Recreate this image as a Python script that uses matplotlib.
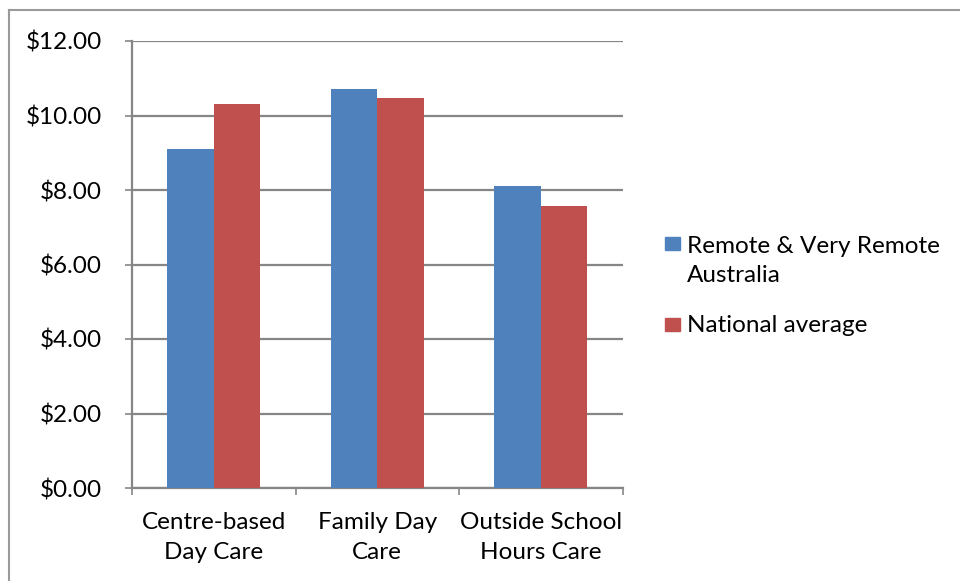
import matplotlib.pyplot as plt
import numpy as np
from matplotlib.lines import Line2D
from matplotlib.patches import Rectangle

categories = ['Centre-based\nDay Care', 'Family Day\nCare', 'Outside School\nHours Care']
remote = [9.11, 10.71, 8.12]
national = [10.31, 10.46, 7.56]
series_names = ['Remote & Very Remote\nAustralia', 'National average']
colors = ['#4f81bd', '#c0504d']
grid_col = '#868686'

plt.rcParams['font.family'] = ['Lato', 'DejaVu Sans']
fs = 17.5
W, H = 960, 581

fig = plt.figure(figsize=(9.6, 5.81), dpi=100)
ax = fig.add_axes([132 / W, 1 - 488 / H, (622.5 - 132) / W, (488 - 41) / H])

ind = np.arange(len(categories))
width = 0.2857
ax.bar(ind - width / 2, remote, width, color=colors[0], label=series_names[0], zorder=3)
ax.bar(ind + width / 2, national, width, color=colors[1], label=series_names[1], zorder=3)

ax.set_xlim(-0.5, len(categories) - 0.5)
ax.set_ylim(0, 12)
ax.set_yticks(np.arange(0, 13, 2))
ax.set_yticklabels(['${:.2f}'.format(v) for v in np.arange(0, 13, 2)], fontsize=fs)
ax.yaxis.grid(True, color=grid_col, linewidth=1.6, zorder=0)
ax.set_axisbelow(True)

ax.set_xticks(ind)
ax.set_xticklabels(categories, fontsize=fs, linespacing=1.55)
ax.tick_params(axis='x', length=0, pad=17)
ax.set_xticks(np.arange(-0.5, len(categories), 1), minor=True)
ax.tick_params(axis='x', which='minor', length=5, width=1.2, color=grid_col)
ax.tick_params(axis='y', length=5, width=1.2, color=grid_col, pad=16.5)

for s in ['top', 'right']:
    ax.spines[s].set_visible(False)
for s in ['left', 'bottom']:
    ax.spines[s].set_color(grid_col)
    ax.spines[s].set_linewidth(1.6)

# legend, square beside the first line of each entry (Excel style)
y = 244
for name, c in zip(series_names, colors):
    fig.add_artist(Rectangle((665 / W, 1 - (y + 6.5) / H), 15 / W, 13 / H,
                             color=c, transform=fig.transFigure))
    for line in name.split('\n'):
        fig.text(687 / W, 1 - y / H, line, fontsize=fs, va='center_baseline', ha='left')
        y += 30
    y += 20

# outer chart border
fig.add_artist(Line2D([9 / W, 1], [1 - 10 / H] * 2, color='#9a9a9a', linewidth=1.5))
fig.add_artist(Line2D([9 / W] * 2, [0, 1 - 10 / H], color='#9a9a9a', linewidth=1.5))

fig.savefig('out.png', dpi=100)
